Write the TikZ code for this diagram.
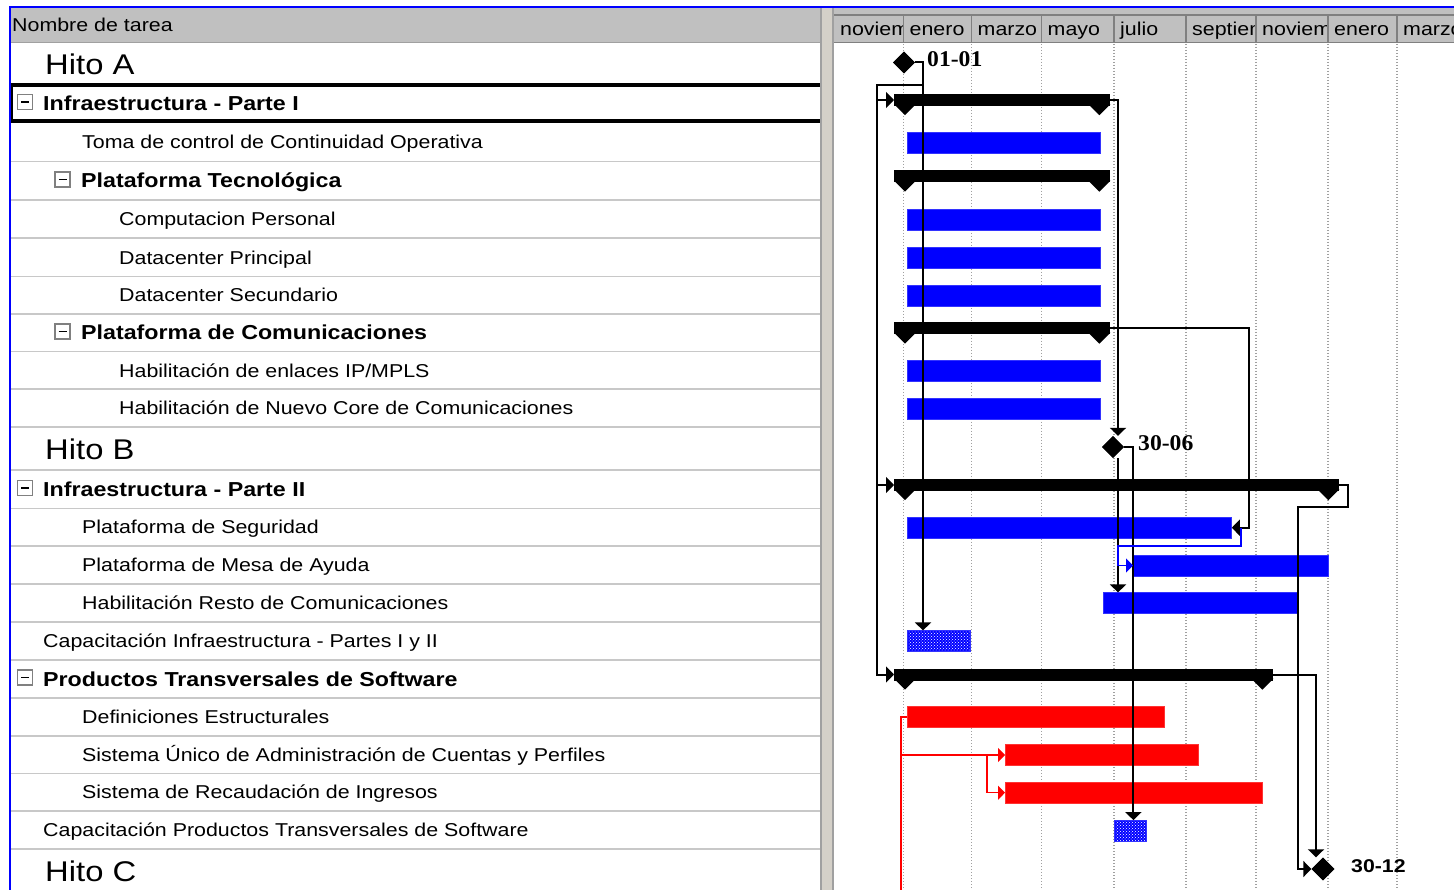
\documentclass[tikz,border=0pt]{standalone}
\usepackage{fontspec}
\setmainfont{Liberation Sans}[FakeStretch=1.15]
\newfontfamily\datefont{Liberation Serif}[FakeStretch=1.05]
\usetikzlibrary{arrows.meta,shapes.geometric,patterns}

\definecolor{hdrgray}{HTML}{C0C0C0}
\definecolor{rulegray}{HTML}{C8C8C8}
\definecolor{edgegray}{HTML}{808080}
\definecolor{splitgray}{HTML}{D4D0C8}
\definecolor{dotgray}{HTML}{A0A0A0}

\tikzset{
  tasktxt/.style={anchor=base west, inner sep=0pt, font=\fontsize{18.6}{20}\selectfont},
  sumtxt/.style={anchor=base west, inner sep=0pt, font=\fontsize{20.2}{22}\selectfont\bfseries},
  hitotxt/.style={anchor=base west, inner sep=0pt, font=\fontsize{28.5}{30}\selectfont},
  datetxt/.style={anchor=base west, inner sep=0pt, font=\fontsize{22.5}{24}\selectfont\datefont\bfseries},
  datesans/.style={anchor=base west, inner sep=0pt, font=\fontsize{18.5}{20}\selectfont\bfseries},
  taskbar/.style={anchor=west, inner sep=0pt, minimum height=21pt, fill=blue, draw=blue!80!white, line width=0.8pt},
  redbar/.style={taskbar, fill=red, draw=red!80!white},
  dotbar/.style={taskbar, preaction={fill=blue}, pattern=crosshatch dots, pattern color=white},
  sumbar/.style={anchor=west, inner sep=0pt, minimum height=12pt, fill=black},
  mile/.style={diamond, fill=black, inner sep=0pt, minimum width=22pt, minimum height=22pt},
  minusbox/.style={draw=edgegray, fill=white, line width=1.2pt, inner sep=0pt, minimum size=15pt,
    path picture={\draw[black, line width=1.6pt] ([xshift=-4pt]path picture bounding box.center) -- ([xshift=4pt]path picture bounding box.center);}},
  link/.style={line width=2pt, -{Triangle[length=8pt,width=16pt]}},
  bluelink/.style={blue, line width=1.6pt, -{Triangle[length=7pt,width=14pt]}},
  redlink/.style={red, line width=1.5pt, -{Triangle[length=7pt,width=14pt]}}
}

\begin{document}
\begin{tikzpicture}[x=1pt, y=-1pt]
  \useasboundingbox (0,0) rectangle (1454,890);
  \fill[white] (0,0) rectangle (1454,890);

  % Table header and row rules
  \fill[hdrgray] (11,8) rectangle (820,42);
  \draw[dotgray, line width=1.5pt] (11,42.5) -- (820,42.5);
  \node[tasktxt] (hdr) at (12,32) {Nombre de tarea};
  \foreach \y in {161.7,200,238.3,276.7,314,351.7,389.3,427.3,470,508.3,546,584,621.7,660,697.7,735.7,773.3,811,849}
    \draw[rulegray, line width=1.6pt] (11,\y) -- (820,\y);

  % Selected row
  \draw[line width=4pt] (11,85.5) -- (820,85.5);
  \draw[line width=4pt] (11,121.5) -- (820,121.5);
  \draw[line width=2pt] (11.5,85.5) -- (11.5,121.5);

  % Task names
  \foreach \k/\x/\y/\s/\t in {
      1/45/75/hitotxt/{Hito A},
      2/43/110.4/sumtxt/{Infraestructura - Parte I},
      3/82/148.8/tasktxt/{Toma de control de Continuidad Operativa},
      4/81/188/sumtxt/{Plataforma Tecnológica},
      5/119/225.9/tasktxt/{Computacion Personal},
      6/119/264.2/tasktxt/{Datacenter Principal},
      7/119/302/tasktxt/{Datacenter Secundario},
      8/81/340/sumtxt/{Plataforma de Comunicaciones},
      9/119/377.2/tasktxt/{Habilitación de enlaces IP/MPLS},
      10/119/415/tasktxt/{Habilitación de Nuevo Core de Comunicaciones},
      11/45/460/hitotxt/{Hito B},
      12/43/496.4/sumtxt/{Infraestructura - Parte II},
      13/82/533.9/tasktxt/{Plataforma de Seguridad},
      14/82/571.7/tasktxt/{Plataforma de Mesa de Ayuda},
      15/82/609.5/tasktxt/{Habilitación Resto de Comunicaciones},
      16/43/647.5/tasktxt/{Capacitación Infraestructura - Partes I y II},
      17/43/686/sumtxt/{Productos Transversales de Software},
      18/82/723.4/tasktxt/{Definiciones Estructurales},
      19/82/761.2/tasktxt/{Sistema Único de Administración de Cuentas y Perfiles},
      20/82/798.9/tasktxt/{Sistema de Recaudación de Ingresos},
      21/43/836.7/tasktxt/{Capacitación Productos Transversales de Software},
      22/45/881/hitotxt/{Hito C}}
    \node[\s] (r\k) at (\x,\y) {\t};

  % Collapse boxes
  \node[minusbox] (c2) at (25,102) {};
  \node[minusbox] (c4) at (62.5,179.5) {};
  \node[minusbox] (c8) at (62.5,331.5) {};
  \node[minusbox] (c12) at (25,488) {};
  \node[minusbox] (c17) at (25,677.5) {};

  % Splitter
  \fill[splitgray] (821,8) rectangle (833,890);
  \draw[dotgray, line width=1.5pt] (821,8) -- (821,890);
  \draw[dotgray, line width=1.5pt] (833,8) -- (833,890);

  % Timescale
  \fill[hdrgray] (834,8) rectangle (1454,42);
  \draw[edgegray, line width=1.2pt] (834,15) -- (1454,15);
  \draw[edgegray, line width=1.2pt] (834,42.5) -- (1454,42.5);
  \foreach \xa/\xb/\m [count=\i] in {834/903.5/noviem, 903.5/971.5/enero, 971.5/1041.5/marzo,
      1041.5/1114/mayo, 1114/1186/julio, 1186/1256/septiem, 1256/1328/noviem,
      1328/1397/enero, 1397/1470/marzo} {
    \begin{scope}
      \clip (\xa,15) rectangle (\xb-1,42);
      \node[tasktxt] (mes\i) at (\xa+6,35.5) {\m};
    \end{scope}
    \draw[edgegray, line width=1.5pt] (\xb,15) -- (\xb,42);
  }

  % Grid
  \foreach \x in {903.5,971.5,1041.5,1114,1186,1256,1328,1397}
    \draw[dotgray, line width=1.2pt, dash pattern=on 1.2pt off 1.8pt] (\x,44) -- (\x,890);

  % Summary bars
  \node[sumbar, minimum width=216pt] (S2) at (894,100) {};
  \node[sumbar, minimum width=216pt] (S4) at (894,176.5) {};
  \node[sumbar, minimum width=216pt] (S8) at (894,328.5) {};
  \node[sumbar, minimum width=445pt] (S12) at (894,485) {};
  \node[sumbar, minimum width=379pt] (S17) at (894,674.5) {};
  \foreach \s in {S2,S4,S8,S12,S17} {
    \fill ([yshift=2pt]\s.south west) -- ++(22,0) -- ++(-11,11) -- cycle;
    \fill ([yshift=2pt]\s.south east) -- ++(-22,0) -- ++(11,11) -- cycle;
  }

  % Task bars
  \node[taskbar, minimum width=193pt] (B3) at (907,142.6) {};
  \node[taskbar, minimum width=193pt] (B5) at (907,219.7) {};
  \node[taskbar, minimum width=193pt] (B6) at (907,258) {};
  \node[taskbar, minimum width=193pt] (B7) at (907,295.8) {};
  \node[taskbar, minimum width=193pt] (B9) at (907,371) {};
  \node[taskbar, minimum width=193pt] (B10) at (907,408.8) {};
  \node[taskbar, minimum width=324pt] (B13) at (907,527.7) {};
  \node[taskbar, minimum width=195pt] (B14) at (1133,565.5) {};
  \node[taskbar, minimum width=194pt] (B15) at (1103,603.3) {};
  \node[dotbar, minimum width=63pt] (P16) at (907,641.3) {};
  \node[redbar, minimum width=257pt] (R18) at (907,717.2) {};
  \node[redbar, minimum width=193pt] (R19) at (1005,755) {};
  \node[redbar, minimum width=257pt] (R20) at (1005,792.7) {};
  \node[dotbar, minimum width=32pt] (P21) at (1114,831) {};

  % Milestones
  \node[mile] (mA) at (904,62.5) {};
  \node[mile] (mB) at (1113,447) {};
  \node[mile, minimum width=23pt, minimum height=23pt] (mC) at (1323,869) {};

  % Links
  \coordinate (aR) at (923,85);
  \coordinate (aL) at (877,85);
  \coordinate (offR) at (901,890);
  \draw[link] (mA.east) -| (aR) -- (aL) |- (S2.west);
  \draw[link] (aL) |- (S12.west);
  \draw[link] (aL) |- (S17.west);
  \draw[link] (aR) -- ([xshift=16pt]P16.north west);
  \draw[link] (S2.east) -| ([xshift=5pt]mB.north);
  \draw[link] ([xshift=5pt]mB.south) -- ([xshift=15pt]B15.north west);
  \draw[link] (mB.east) -| ([xshift=3pt]P21.north);
  \draw[link] (S8.east) -- ++(139,0) |- (B13.east);
  \draw[bluelink] ([xshift=9pt]B13.east) -- ++(0,18) -| ([xshift=-15pt]B14.west) -- (B14.west);
  \draw[link] (S12.east) -- ++(9,0) -- ++(0,22) -| ([xshift=-13pt]mC.west) -- (mC.west);
  \draw[link] (S17.east) -| ([xshift=-7pt]mC.north);
  \draw[red, line width=1.5pt] (R18.west) -- ++(-6,0) -- (offR);
  \draw[redlink] (R18.west) -- ++(-6,0) |- (R19.west);
  \draw[redlink] ([xshift=-18pt]R19.west) |- (R20.west);

  % Redraw milestones over links
  \node[mile] at (mA) {};
  \node[mile] at (mB) {};
  \node[mile, minimum width=23pt, minimum height=23pt] at (mC) {};

  % Milestone dates
  \node[datetxt] (lA) at (927,67) {01-01};
  \node[datetxt] (lB) at (1138,450) {30-06};
  \node[datesans] (lC) at (1351,872) {30-12};

  % Frame
  \draw[blue, line width=2pt] (9.5,890) -- (9.5,7) -- (1454,7);
\end{tikzpicture}
\end{document}
